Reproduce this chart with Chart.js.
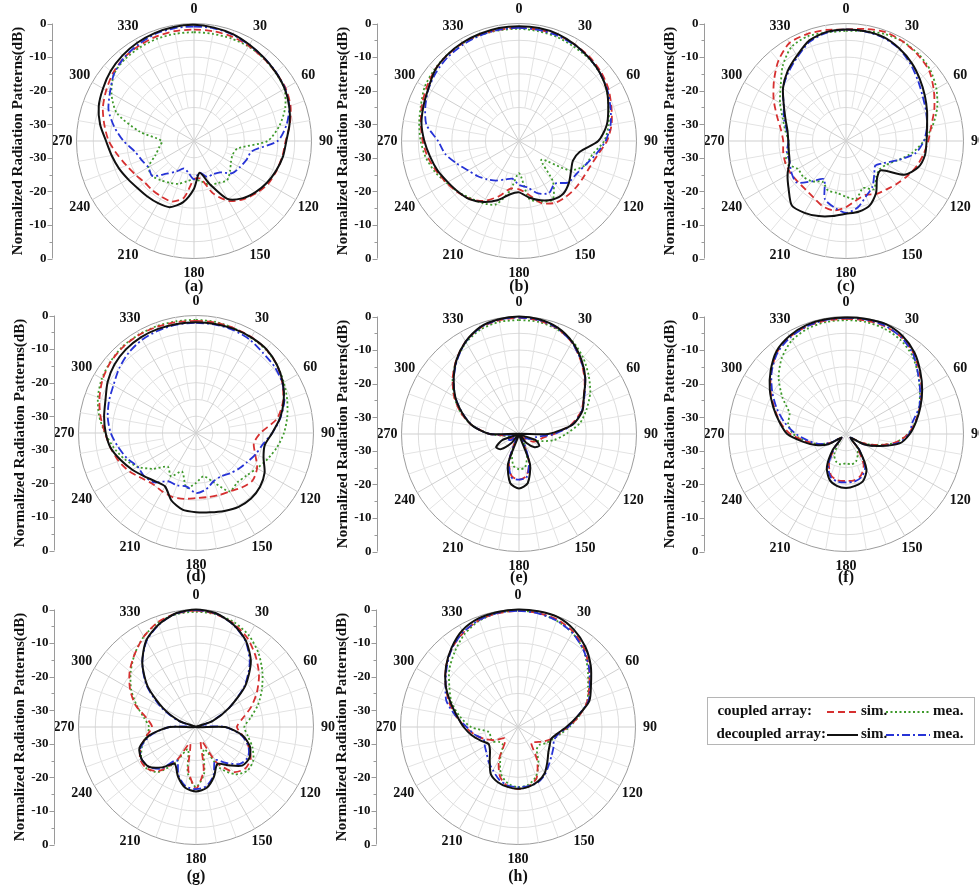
<!DOCTYPE html>
<html>
<head>
<meta charset="utf-8">
<script src="https://cdn.jsdelivr.net/npm/chart.js@4.4.1/dist/chart.umd.min.js"></script>
<style>
  html, body { margin: 0; padding: 0; background: #fff; overflow: hidden; }
  #wrap { position: relative; width: 979px; height: 886px; overflow: hidden; }
  #wrap canvas { position: absolute; }
</style>
</head>
<body>
<div id="wrap"></div>
<script>
// angles of the samples (deg, clockwise from top) and radial scale
const angles = [0,10,20,30,40,50,60,70,80,90,100,110,120,130,140,150,160,170,180,190,200,210,220,230,240,250,260,270,280,290,300,310,320,330,340,350];
const rMin = -35;
const rMax = 0;
const axisLabels = [0, -10, -20, -30];
const panelNames = ['(a)', '(b)', '(c)', '(d)', '(e)', '(f)', '(g)', '(h)'];
const axisTitle = 'Normalized Radiation Patterns(dB)';

// (a)
const aDecSim = [-0.4,-0.7,-1.1,-1.9,-2.6,-3.2,-3.8,-4.8,-6.1,-7.5,-8.1,-9,-10,-11.2,-12.7,-15.1,-21.4,-25.4,-20.8,-16.5,-14,-13.6,-13.4,-13.1,-12.3,-11.2,-10.1,-8.8,-6.6,-4.8,-3.7,-2.6,-1.8,-1.2,-0.8,-0.5];
const aDecMea = [-0.9,-0.9,-1.3,-2,-2.6,-3.1,-3.7,-4.8,-7,-10.1,-17.5,-18.4,-19.3,-20.1,-22.8,-23.6,-23.6,-25.4,-23.6,-25.4,-26.3,-24.5,-22.3,-18.8,-19.3,-18.4,-17.1,-14,-10.9,-7.9,-6.1,-3.9,-2.6,-1.8,-1.1,-0.9];
const aCouSim = [-1.8,-1.8,-1.9,-2.3,-2.8,-3.2,-3.5,-4.4,-6,-7.7,-8.3,-8.9,-9.5,-10.8,-12.3,-14.4,-18.4,-23.6,-23.6,-17.9,-15.8,-15.8,-15.8,-15.8,-14.9,-13.6,-11.8,-9.6,-7.9,-6.1,-4.8,-3.5,-2.6,-2.2,-1.9,-1.8];
const aCouMea = [-2.6,-2.6,-2.5,-2.5,-2.8,-3.3,-3.9,-6.1,-9.2,-13.1,-21.9,-22.8,-22.3,-21,-19.7,-20.6,-21,-22.8,-23.6,-22.8,-21.4,-20.6,-19.7,-18.8,-19.3,-22.8,-24.5,-25.4,-18.4,-10.5,-6.6,-3.9,-3.1,-2.8,-2.6,-2.6];

// (b)
const bDecSim = [-0.8,-0.8,-1.1,-1.8,-2.6,-3.5,-4.8,-6.7,-8.5,-11.4,-16.6,-17.9,-17.1,-15.6,-14.5,-14.9,-16.2,-17.9,-19.7,-18.8,-16.2,-14,-12.3,-11.4,-10.5,-9.2,-8.1,-6.8,-5.5,-4.7,-3.8,-2.3,-1.6,-1.2,-1,-0.8];
const bDecMea = [-1.3,-1.4,-1.6,-2,-2.6,-3.5,-4.6,-6,-7.3,-9.2,-11.8,-14,-15.3,-15.8,-18.4,-17.1,-18.4,-21,-21.9,-23.6,-22.8,-21.4,-20.1,-18.8,-17.5,-15.3,-12.7,-10.9,-7,-5.3,-3.9,-2.9,-2.2,-1.8,-1.5,-1.3];
const bCouSim = [-1.3,-1.3,-1.4,-1.8,-2.3,-3.1,-4.2,-5.7,-7,-8.8,-11.2,-12.5,-13,-13.1,-13.3,-13.7,-15.3,-18.8,-20.6,-20.6,-17.5,-14.4,-12.4,-11.2,-10.1,-8.8,-7.4,-6.3,-5.3,-4.2,-3.2,-2.2,-1.7,-1.4,-1.3,-1.3];
const bCouMea = [-1.6,-1.8,-2,-2.5,-2.8,-3.5,-4.8,-6.6,-7.9,-9.6,-12.7,-14,-17.5,-26.3,-19.3,-14.9,-15.8,-17.5,-25.4,-20.1,-14.9,-13.6,-12.7,-11.4,-10.1,-8.3,-6.8,-5.7,-4.8,-3.9,-2.6,-2,-1.6,-1.4,-1.4,-1.5];

// (c)
const cDecSim = [-1.8,-1.8,-2.1,-3.2,-4.6,-6.3,-7.9,-9.3,-10.5,-11,-11.1,-12.1,-14.9,-21.4,-20.6,-17.1,-14.5,-13.6,-13.3,-12.3,-11.2,-10.3,-9.9,-12.7,-14.9,-17.1,-17.7,-17.8,-17.3,-15.8,-13.6,-10.5,-7.9,-5.7,-3.1,-2];
const cDecMea = [-1.8,-1.9,-2.3,-3.3,-5.1,-7,-8.6,-9.6,-10.5,-11.8,-14,-18.4,-21.9,-23.6,-21.9,-19.3,-17.5,-14.9,-13.6,-14.9,-16.6,-21.9,-19.3,-15.8,-16.2,-17.1,-17.1,-17.9,-17.1,-15.3,-13.6,-10.5,-8.3,-6.1,-3.5,-2.2];
const cCouSim = [-1.8,-1.1,-0.5,-0.9,-1.6,-2.6,-4.8,-7,-9.2,-10.5,-11.6,-12.7,-14,-15.2,-16.2,-16.8,-17.9,-17.1,-15.3,-14,-14.4,-15.6,-16.2,-16.2,-15.9,-15.8,-16,-16.3,-15.3,-13.1,-10.1,-7,-3.7,-1.3,-1.1,-1.4];
const cCouMea = [-2.2,-1.8,-1.1,-0.9,-1.3,-2.2,-3.9,-6.1,-8.8,-11.8,-14.9,-18.4,-21,-21.9,-21,-18.4,-20.1,-17.5,-18.4,-19.3,-19.3,-21,-19.3,-18.4,-18.4,-15.8,-17.5,-17.9,-16.6,-14.9,-12.3,-9.6,-5.7,-2.6,-1.8,-2.2];

// (d)
const dDecSim = [-2,-2,-2,-2.1,-2.4,-3.5,-5.1,-7.2,-9.6,-12.3,-14.2,-13.6,-11.4,-10.1,-9.5,-9.6,-10.3,-11,-11.4,-11.8,-13.6,-16.6,-16.2,-14.9,-13.1,-11.2,-9.2,-8.1,-7.2,-6.3,-4.6,-3.3,-2.5,-2.1,-2,-2];
const dDecMea = [-2.2,-2.2,-2.4,-2.9,-3.9,-4.4,-5.3,-7,-9.5,-12.3,-14.9,-16.2,-17.5,-18.4,-19.3,-20.1,-19.7,-17.9,-17.1,-18.8,-18.4,-18.4,-15.8,-14.9,-14.9,-13.1,-11.4,-9.6,-8.3,-7.4,-6.6,-5.1,-3.8,-2.9,-2.5,-2.2];
const dCouSim = [-1.6,-1.6,-1.8,-2,-2.5,-3.5,-5.3,-7.4,-10.5,-15.8,-17.5,-16.2,-14,-13,-13.8,-14.9,-15.3,-15.6,-15.6,-15.1,-14.7,-14.9,-15.1,-14,-12.1,-10.5,-9.2,-7.9,-6.1,-4.4,-2.9,-1.9,-1.4,-1.2,-1.3,-1.5];
const dCouMea = [-1.3,-1.4,-1.8,-2.2,-2.6,-3.5,-4.8,-6.1,-7.4,-8.8,-10.5,-12.3,-14,-15.3,-15.8,-14.9,-19.3,-21.9,-20.1,-18.4,-22.8,-20.1,-21.9,-18.4,-14.9,-12.3,-10.1,-7.9,-5.7,-3.9,-2.6,-1.8,-1.2,-1.1,-1.1,-1.2];

// (e)
const eDecSim = [0,-0.3,-1.3,-3.3,-6.1,-9.2,-12.7,-14.9,-18.8,-26.3,-35,-29.8,-28,-28.9,-31.5,-35,-25.4,-20.1,-18.8,-20.1,-25.4,-35,-31.5,-28,-27.1,-29.8,-35,-26.3,-21,-17.1,-13.1,-9.6,-6.1,-3.2,-1.1,-0.3];
const eDecMea = [-0.3,-0.5,-1.5,-3.5,-6.3,-9.3,-12.5,-15.1,-18.8,-24.5,-29.8,-30.6,-32.4,-34.1,-35,-32.4,-26.3,-21.9,-21.4,-21.9,-26.3,-33.3,-35,-32.4,-31.5,-32.4,-33.3,-26.3,-21,-17.1,-13.1,-9.6,-6.3,-3.3,-1.3,-0.4];
const eCouSim = [-0.4,-0.7,-1.6,-3.5,-6.4,-9.5,-12.7,-15.3,-19.3,-24.5,-28,-28.9,-30.6,-33.3,-35,-33.3,-26.3,-22.3,-21.4,-22.3,-26.3,-33.3,-35,-33.3,-32.4,-31.5,-31.5,-26.3,-21,-16.6,-12.7,-9.2,-6,-3.2,-1.3,-0.6];
const eCouMea = [-1.1,-1.1,-1.8,-3.1,-5.3,-7.9,-10.5,-13.6,-16.6,-21,-24.5,-28.9,-33.3,-35,-35,-32.4,-28,-24.9,-24.5,-25.4,-28.9,-33.3,-35,-35,-34.1,-33.3,-31.5,-26.3,-21,-16.6,-12.7,-9.2,-6.1,-3.5,-1.8,-1.1];

// (f)
const fDecSim = [-0.3,-0.2,-0.2,-1.3,-3.3,-6.1,-8.8,-11.4,-13.8,-16,-18.8,-24.5,-28.9,-33.3,-28.9,-22.8,-20.1,-19.3,-18.9,-19.3,-20.6,-23.6,-28.9,-33.3,-28.9,-25.4,-21.9,-17.5,-14.9,-12,-8.8,-5.7,-2.8,-1.3,-0.5,-0.3];
const fDecMea = [-0.4,-0.4,-0.7,-1.9,-3.9,-7,-9.5,-11.8,-14.9,-16.2,-19.3,-24.5,-28.9,-33.3,-28.9,-23.6,-21.4,-20.6,-20.6,-20.6,-21.4,-24.5,-29.8,-33.3,-29.8,-26.3,-23.6,-20.1,-16.6,-13.1,-9.6,-6.1,-3.3,-1.8,-0.9,-0.5];
const fCouSim = [-0.7,-0.7,-0.9,-1.8,-3.7,-6.4,-9,-11.6,-14,-16.5,-20.1,-25.4,-29.8,-33.3,-29.8,-24.5,-21.9,-21,-21,-21,-21.9,-24.9,-29.8,-33.3,-29.8,-26.3,-22.8,-18.4,-15.1,-12.3,-9,-6,-3.1,-1.6,-0.9,-0.7];
const fCouMea = [-1.1,-1.1,-1.6,-2.6,-4.4,-7,-9.6,-11.8,-14,-16.6,-20.1,-25.4,-29.8,-33.3,-29.8,-28,-26.3,-25.8,-26.3,-25.8,-26.3,-28,-31.5,-33.3,-29.8,-26.3,-22.8,-19.3,-17.5,-17.1,-13.1,-8.8,-5.3,-2.8,-1.6,-1.1];

// (g)
const gDecSim = [0,-0.6,-2.5,-5.3,-9.6,-15.8,-23.6,-29.8,-35,-26.3,-21,-17.9,-16.6,-17.1,-20.1,-22.3,-19.3,-16.6,-15.8,-16.6,-19.3,-22.3,-19.3,-16.6,-16.2,-17.1,-21,-27.1,-35,-29.8,-23.6,-16.2,-10.1,-5.3,-2.5,-0.6];
const gDecMea = [-0.2,-0.7,-2.6,-5.5,-10.1,-16.2,-23.6,-29.8,-33.3,-26.3,-21.4,-18.4,-17.1,-17.9,-21,-23.6,-19.7,-17.1,-16.5,-17.1,-19.7,-23.6,-18.8,-16.6,-16.2,-17.5,-21.4,-27.1,-33.3,-28.9,-22.8,-15.8,-10.1,-5.5,-2.6,-0.7];
const gCouSim = [-0.3,-0.9,-2.2,-4.4,-7.4,-10.5,-14,-17.5,-21,-22.8,-21,-18.4,-16.2,-15.8,-17.5,-22.8,-30.6,-21.9,-16.6,-21.9,-29.8,-23.6,-17.9,-15.8,-15.8,-17.5,-20.1,-21.9,-20.1,-15.8,-12.3,-9.2,-6.6,-3.9,-1.8,-0.7];
const gCouMea = [-0.7,-0.9,-1.8,-3.5,-6.1,-9.2,-12.3,-15.3,-18.4,-20.6,-19.3,-17.1,-15.3,-14.9,-16.6,-21,-28,-21,-17.1,-21,-28,-22.8,-17.5,-15.8,-16.2,-17.9,-20.1,-21,-19.3,-16.2,-12.7,-9.6,-6.6,-3.9,-1.9,-0.9];

// (h)
const hDecSim = [0,0,-0.2,-1.6,-3.8,-6.7,-9.9,-12.4,-17.1,-20.6,-23.2,-24.5,-24.1,-23.2,-21.4,-19.1,-17.7,-16.9,-16.6,-16.9,-17.5,-18.8,-21.9,-24.1,-24.9,-23.2,-21,-18.8,-16.6,-13.6,-10.1,-7,-4.2,-1.8,-0.6,-0.2];
const hDecMea = [-0.4,-0.6,-1.3,-2.6,-4.8,-7.4,-10.3,-12.7,-17.1,-20.1,-22.8,-23.6,-22.8,-21.9,-20.6,-18.8,-17.5,-17.1,-17.1,-17.3,-18.4,-20.1,-21.4,-22.8,-23.6,-24.1,-21.9,-19.7,-16.2,-12.3,-10.1,-7.3,-4.4,-2.4,-1.1,-0.5];
const hCouSim = [-0.4,-0.5,-0.9,-2.2,-4.4,-7.4,-10.5,-13.1,-16.6,-20.1,-22.8,-24.5,-26.3,-28,-28.9,-23.6,-18.8,-17.1,-16.5,-17.1,-19.3,-23.6,-28.9,-29.8,-27.1,-24.5,-21.9,-19.3,-16.2,-13.1,-10.1,-7,-4.4,-2.5,-1.1,-0.6];
const hCouMea = [-0.3,-0.5,-1.3,-2.6,-4.8,-7.9,-10.9,-13.1,-16.6,-19.7,-22.3,-24.1,-25.4,-26.7,-26.3,-22.8,-19.3,-17.5,-17.1,-17.9,-20.1,-24.5,-28,-28,-26.3,-26.3,-26.3,-21,-17.5,-14,-11.4,-8.3,-5.7,-3.1,-1.3,-0.5];

const panelData = [
  [aDecSim, aDecMea, aCouSim, aCouMea],
  [bDecSim, bDecMea, bCouSim, bCouMea],
  [cDecSim, cDecMea, cCouSim, cCouMea],
  [dDecSim, dDecMea, dCouSim, dCouMea],
  [eDecSim, eDecMea, eCouSim, eCouMea],
  [fDecSim, fDecMea, fCouSim, fCouMea],
  [gDecSim, gDecMea, gCouSim, gCouMea],
  [hDecSim, hDecMea, hCouSim, hCouMea]
];

// layout (page pixels)
const centersX = [194, 519, 846, 196, 519, 846, 196, 518];
const centersY = [141, 141, 141, 433, 434, 434, 727, 727];
const captionDy = [146, 146, 146, 144, 144, 144, 150, 150];
const R = 117.5;
const CW = 352, CH = 306, CX = 195, CY = 145;
const FONT = '"Liberation Serif", "Times New Roman", serif';

const styles = [
  { color: '#111111', dash: [], width: 2 },
  { color: '#2633d6', dash: [8, 3, 2, 3], width: 1.8 },
  { color: '#d63030', dash: [7, 4], width: 1.8 },
  { color: '#3f9a2c', dash: [2, 2.5], width: 1.8 }
];

function decor(idx) {
  return {
    id: 'decor' + idx,
    beforeDatasetsDraw(chart) {
      const s = chart.scales.r;
      const ctx = chart.ctx;
      ctx.save();
      ctx.strokeStyle = '#e3e3e3';
      ctx.lineWidth = 1;
      angles.forEach((a, i) => {
        if (a % 30 === 0) return;
        const p0 = s.getPointPositionForValue(i, -25);
        const p1 = s.getPointPositionForValue(i, rMax);
        ctx.beginPath();
        ctx.moveTo(p0.x, p0.y);
        ctx.lineTo(p1.x, p1.y);
        ctx.stroke();
      });
      ctx.restore();
    },
    afterDraw(chart) {
      const s = chart.scales.r;
      const ctx = chart.ctx;
      const x0 = s.xCenter, y0 = s.yCenter, rr = s.drawingArea;
      ctx.save();
      ctx.fillStyle = '#111';
      ctx.textAlign = 'center';
      ctx.textBaseline = 'middle';

      // angle labels
      ctx.font = 'bold 14px ' + FONT;
      angles.forEach((a, i) => {
        if (a % 30 !== 0) return;
        const p = s.getPointPosition(i, rr + 14.5);
        ctx.fillText(String(a), p.x, p.y);
      });

      // left dB axis, mirrored about the centre
      const ax = Math.round(x0 - 142) + 0.5;
      ctx.strokeStyle = '#9a9a9a';
      ctx.lineWidth = 1;
      ctx.beginPath();
      ctx.moveTo(ax, y0 - rr);
      ctx.lineTo(ax, y0 + rr);
      ctx.stroke();
      for (let v = rMax; v > rMin; v -= 5) {
        const d = s.getDistanceFromCenterForValue(v);
        [y0 - d, y0 + d].forEach(y => {
          const yy = Math.round(y) + 0.5;
          ctx.beginPath();
          ctx.moveTo(ax, yy);
          ctx.lineTo(ax - (v % 10 === 0 ? 5 : 3), yy);
          ctx.stroke();
        });
      }
      ctx.font = 'bold 13px ' + FONT;
      ctx.textAlign = 'right';
      axisLabels.forEach(v => {
        const d = s.getDistanceFromCenterForValue(v);
        ctx.fillText(String(v), ax - 6, y0 - d);
        ctx.fillText(String(v), ax - 6, y0 + d);
      });

      // axis title
      ctx.save();
      ctx.translate(x0 - 176, y0);
      ctx.rotate(-Math.PI / 2);
      ctx.textAlign = 'center';
      ctx.font = 'bold 15px ' + FONT;
      ctx.fillText(axisTitle, 0, 0);
      ctx.restore();

      // caption
      ctx.textAlign = 'center';
      ctx.font = 'bold 16px ' + FONT;
      ctx.fillText(panelNames[idx], x0, y0 + captionDy[idx]);
      ctx.restore();
    }
  };
}

const wrap = document.getElementById('wrap');

panelData.forEach((series, idx) => {
  const canvas = document.createElement('canvas');
  canvas.width = CW;
  canvas.height = CH;
  canvas.style.left = (centersX[idx] - CX) + 'px';
  canvas.style.top = (centersY[idx] - CY) + 'px';
  wrap.appendChild(canvas);

  new Chart(canvas, {
    type: 'radar',
    data: {
      labels: angles.map(String),
      datasets: series.map((vals, k) => ({
        data: vals,
        borderColor: styles[k].color,
        borderDash: styles[k].dash,
        borderWidth: styles[k].width,
        fill: false,
        pointRadius: 0,
        pointHitRadius: 0,
        tension: 0.25
      }))
    },
    options: {
      responsive: false,
      animation: false,
      devicePixelRatio: 1,
      events: [],
      plugins: { legend: { display: false }, tooltip: { enabled: false } },
      scales: {
        r: {
          min: rMin,
          max: rMax,
          ticks: { display: false, stepSize: 5 },
          pointLabels: { display: false },
          grid: {
            circular: true,
            color: c => (c.tick && c.tick.value === rMax) ? '#9c9c9c' : '#dddddd',
            lineWidth: 1
          },
          angleLines: {
            color: c => (c.index % 3 === 0) ? '#cfcfcf' : 'rgba(0,0,0,0)',
            lineWidth: 1
          },
          afterFit: s => {
            s.xCenter = CX;
            s.yCenter = CY;
            s.drawingArea = R;
          }
        }
      }
    },
    plugins: [decor(idx)]
  });
});

// legend box
const legendRows = [
  { name: 'coupled array:', sim: 2, mea: 3 },
  { name: 'decoupled array:', sim: 0, mea: 1 }
];
(function drawLegend() {
  const c = document.createElement('canvas');
  c.width = 275; c.height = 56;
  c.style.left = '703px';
  c.style.top = '693px';
  wrap.appendChild(c);
  const ctx = c.getContext('2d');
  ctx.strokeStyle = '#b5b5b5';
  ctx.lineWidth = 1;
  ctx.strokeRect(4.5, 4.5, 267, 47);
  ctx.font = 'bold 15px ' + FONT;
  ctx.fillStyle = '#111';
  ctx.textBaseline = 'middle';
  legendRows.forEach((row, r) => {
    const y = 18 + r * 23;
    ctx.textAlign = 'right';
    ctx.fillText(row.name, r === 0 ? 109 : 123, y);
    ctx.textAlign = 'left';
    [[row.sim, 124, 155, 'sim.', 158], [row.mea, 183, 227, 'mea.', 230]].forEach(([k, xa, xb, txt, xt]) => {
      ctx.save();
      ctx.strokeStyle = styles[k].color;
      ctx.lineWidth = styles[k].width;
      ctx.setLineDash(styles[k].dash);
      ctx.beginPath();
      ctx.moveTo(xa, y + 1);
      ctx.lineTo(xb, y + 1);
      ctx.stroke();
      ctx.restore();
      ctx.fillText(txt, xt, y);
    });
  });
})();
</script>
</body>
</html>
